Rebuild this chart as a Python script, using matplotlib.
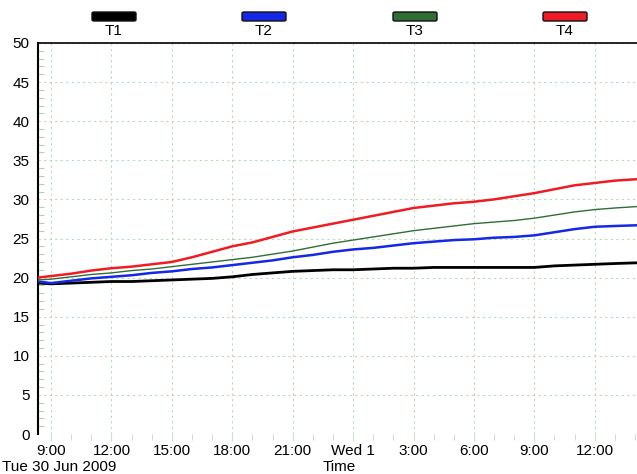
import numpy as np
import matplotlib
matplotlib.use("Agg")
import matplotlib.pyplot as plt
from matplotlib.patches import FancyBboxPatch

plt.rcParams['font.family'] = ['Liberation Sans', 'DejaVu Sans']

# hours counted from Tue 30 Jun 2009 00:00
hours = [8.35, 9, 10, 11, 12, 13, 14, 15, 16, 17, 18, 19, 20, 21, 22, 23,
         24, 25, 26, 27, 28, 29, 30, 31, 32, 33, 34, 35, 36, 37, 38.2]

t1 = [19.3, 19.2, 19.3, 19.4, 19.5, 19.5, 19.6, 19.7, 19.8, 19.9, 20.1, 20.4,
      20.6, 20.8, 20.9, 21.0, 21.0, 21.1, 21.2, 21.2, 21.3, 21.3, 21.3, 21.3,
      21.3, 21.3, 21.5, 21.6, 21.7, 21.8, 21.9]
t2 = [19.5, 19.3, 19.6, 19.9, 20.1, 20.3, 20.6, 20.8, 21.1, 21.3, 21.6, 21.9,
      22.2, 22.6, 22.9, 23.3, 23.6, 23.8, 24.1, 24.4, 24.6, 24.8, 24.9, 25.1,
      25.2, 25.4, 25.8, 26.2, 26.5, 26.6, 26.7]
t3 = [19.7, 19.8, 20.1, 20.4, 20.6, 20.9, 21.1, 21.4, 21.7, 22.0, 22.3, 22.6,
      23.0, 23.4, 23.9, 24.4, 24.8, 25.2, 25.6, 26.0, 26.3, 26.6, 26.9, 27.1,
      27.3, 27.6, 28.0, 28.4, 28.7, 28.9, 29.1]
t4 = [20.0, 20.2, 20.5, 20.9, 21.2, 21.4, 21.7, 22.0, 22.6, 23.3, 24.0, 24.5,
      25.2, 25.9, 26.4, 26.9, 27.4, 27.9, 28.4, 28.9, 29.2, 29.5, 29.7, 30.0,
      30.4, 30.8, 31.3, 31.8, 32.1, 32.4, 32.6]

names = ['T1', 'T2', 'T3', 'T4']
colors = ['#000000', '#1428e6', '#2f6e34', '#ee1c24']
widths = [2.0, 1.8, 1.0, 1.8]

tick_hours = [9, 12, 15, 18, 21, 24, 27, 30, 33, 36]
tick_labels = ['9:00', '12:00', '15:00', '18:00', '21:00', 'Wed 1',
               '3:00', '6:00', '9:00', '12:00']

fs = 11
fig = plt.figure(figsize=(6.37, 4.74), dpi=100)
ax = fig.add_axes([38/637, 40/474, 1 - 38/637, 391/474])

for vals, c, lw in zip([t1, t2, t3, t4], colors, widths):
    ax.plot(hours, vals, color=c, lw=lw, zorder=3)

ax.set_xlim(8.35, 38.1)
ax.set_ylim(0, 50)
ax.set_yticks(np.arange(0, 51, 5))
ax.set_yticks(np.arange(0, 51, 1), minor=True)
ax.set_xticks(tick_hours)
ax.set_xticklabels(tick_labels)
ax.set_xticks(np.arange(9, 39, 1), minor=True)

grid_c = '#b5ddb5'
ax.grid(True, which='major', color=grid_c, linestyle=(0, (2, 3)), lw=0.8)
ax.tick_params(axis='y', which='major', length=0, labelsize=fs, pad=6)
ax.tick_params(axis='y', which='minor', direction='in', length=4,
               color='#a8d8a8', width=0.8)
ax.tick_params(axis='x', which='major', length=5, color='#c8e4c8',
               labelsize=fs, pad=2)
ax.tick_params(axis='x', which='minor', length=4, color='#d0d0d0')

ax.spines['right'].set_visible(False)
ax.spines['bottom'].set_visible(False)
ax.spines['left'].set_linewidth(1.5)
ax.spines['top'].set_linewidth(1.2)

fig.text(2/637, 1 - 467/474, 'Tue 30 Jun 2009', fontsize=fs, va='center', ha='left')
fig.text(339/637, 1 - 467/474, 'Time', fontsize=fs, va='center', ha='center')

# legend across the top
for name, c, cx in zip(names, colors, [114, 264, 415, 565]):
    box = FancyBboxPatch(((cx - 22) / 637, 1 - 21/474), 44/637, 9/474,
                         boxstyle='round,pad=0,rounding_size=0.003',
                         transform=fig.transFigure, facecolor=c,
                         edgecolor='#111111', lw=1.0)
    fig.add_artist(box)
    fig.text(cx / 637, 1 - 31/474, name, fontsize=fs, ha='center', va='center')

fig.savefig('out.png', dpi=100)
